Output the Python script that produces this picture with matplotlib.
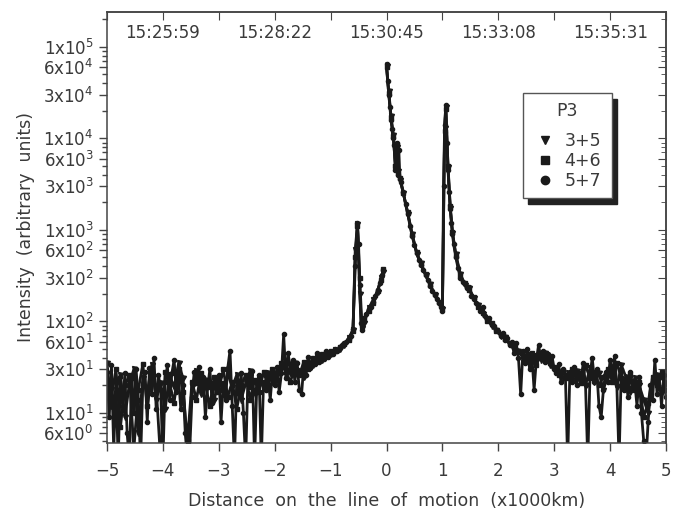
import numpy as np
import matplotlib.pyplot as plt
import matplotlib.transforms as mtransforms
from matplotlib.lines import Line2D
from matplotlib.ticker import FixedLocator, LogLocator, NullFormatter

plt.rcParams['font.family'] = 'DejaVu Sans'
plt.rcParams['mathtext.fontset'] = 'dejavusans'

nan = np.nan

# series 5+7 (circles)
x57 = [-5.00, -4.96, -4.92, -4.88, -4.84, -4.80, -4.76, -4.72, -4.68, -4.64, -4.60, -4.56, -4.52, -4.48,
       -4.44, -4.40, -4.36, -4.32, -4.28, -4.24, -4.20, -4.16, -4.12, -4.08, -4.04, -4.00, -3.96, -3.92,
       -3.88, -3.84, -3.80, -3.76, -3.72, -3.68, -3.64, -3.60, -3.56, -3.52, -3.48, -3.44, -3.40, -3.36,
       -3.32, -3.28, -3.24, -3.20, -3.16, -3.12, -3.08, -3.04, -3.00, -2.96, -2.92, -2.88, -2.84, -2.80,
       -2.76, -2.72, -2.68, -2.64, -2.60, -2.56, -2.52, -2.48, -2.44, -2.40, -2.36, -2.32, -2.28, -2.24,
       -2.20, -2.16, -2.12, -2.08, -2.04, -2.00, -1.96, -1.92, -1.88, -1.84, -1.80, -1.76, -1.72, -1.68,
       -1.64, -1.60, -1.56, -1.52, -1.48, -1.44, -1.40, -1.36, -1.32, -1.28, -1.24, -1.20, -1.16, -1.12,
       -1.08, -1.04, -1.00, -0.96, -0.92, -0.88, -0.84, -0.80, -0.76, -0.72, -0.68, -0.64, -0.60, -0.56,
       -0.52, -0.50, -0.48, -0.46, -0.44, -0.42, -0.40, -0.36, -0.32, -0.28, -0.24, -0.20, -0.16, -0.12,
       -0.08, -0.06, -0.03, 0.00, 0.02, 0.04, 0.06, 0.08, 0.10, 0.12, 0.14, 0.16, 0.18, 0.20, 0.22, 0.24,
       0.26, 0.30, 0.34, 0.38, 0.42, 0.46, 0.50, 0.54, 0.58, 0.62, 0.66, 0.70, 0.74, 0.78, 0.82, 0.86,
       0.90, 0.94, 0.98, 1.00, 1.02, 1.04, 1.06, 1.08, 1.10, 1.12, 1.14, 1.16, 1.18, 1.20, 1.24, 1.28,
       1.32, 1.36, 1.40, 1.44, 1.48, 1.52, 1.56, 1.60, 1.64, 1.68, 1.72, 1.76, 1.80, 1.84, 1.88, 1.92,
       1.96, 2.00, 2.04, 2.08, 2.12, 2.16, 2.20, 2.24, 2.28, 2.32, 2.36, 2.40, 2.44, 2.48, 2.52, 2.56,
       2.60, 2.64, 2.68, 2.72, 2.76, 2.80, 2.84, 2.88, 2.92, 2.96, 3.00, 3.04, 3.08, 3.12, 3.16, 3.20,
       3.24, 3.28, 3.32, 3.36, 3.40, 3.44, 3.48, 3.52, 3.56, 3.60, 3.64, 3.68, 3.72, 3.76, 3.80, 3.84,
       3.88, 3.92, 3.96, 4.00, 4.04, 4.08, 4.12, 4.16, 4.20, 4.24, 4.28, 4.32, 4.36, 4.40, 4.44, 4.48,
       4.52, 4.56, 4.60, 4.64, 4.68, 4.72, 4.76, 4.80, 4.84, 4.88, 4.92, 4.96, 5.00]
y57 = [28, 9, 33, 4, 22, 3, 25, 12, 27, 6, 3, 24, 10, 30,
       14, 3, 20, 28, 8, 31, 16, 40, 11, 26, 18, 3, 22, 33,
       14, 27, 38, 17, 24, 11, 20, 6, 3, 4, 15, 28, 21, 32,
       18, 25, 9, 19, 30, 13, 22, 17, 26, 8, 21, 14, 31, 48,
       12, 3, 23, 16, 27, 10, 3, 24, 19, 29, 3, 21, 26, 3,
       22, 18, 25, 14, 28, 20, 32, 17, 27, 72, 24, 45, 30, 38,
       22, 35, 18, 16, 33, 26, 41, 31, 38, 34, 45, 36, 42, 39,
       48, 41, 46, 44, 50, 47, 53, 55, 58, 60, 64, 70, 82, 400,
       1200, 700, 250, 95, 80, 105, 100, 120, 135, 145, 165, 190, 220, 260,
       320, 360, nan, 65000, 42000, 30000, 22000, 16000, 12500, 10000, 8500, 4500, 9000, 4000, 7500, 3600,
       3300, 2600, 1900, 1500, 1100, 850, 680, 560, 470, 410, 360, 320, 280, 245, 215, 195,
       175, 160, 145, 130, 3000, 14000, 23000, 9000, 4500, 2600, 1700, 1200, 900, 700, 500, 380,
       300, 270, 255, 230, 240, 190, 175, 160, 150, 130, 145, 115, 105, 110, 92, 88,
       80, 78, 70, 74, 62, 66, 55, 60, 45, 58, 40, 16, 48, 35, 50, 30,
       42, 18, 38, 55, 40, 48, 36, 44, 38, 42, 30, 27, 34, 22, 30, 25,
       3, 28, 22, 32, 20, 27, 24, 35, 20, 3, 26, 40, 22, 30, 12, 9,
       18, 28, 22, 38, 26, 42, 20, 3, 30, 18, 24, 15, 28, 19, 22, 12,
       25, 10, 5, 3, 8, 20, 14, 38, 16, 24, 12, 26, 15]

# series 4+6 (squares)
x46 = [-5.00, -4.92, -4.84, -4.76, -4.68, -4.60, -4.52, -4.44, -4.36, -4.28, -4.20, -4.12, -4.04, -3.96,
       -3.88, -3.80, -3.72, -3.64, -3.56, -3.48, -3.40, -3.32, -3.24, -3.16, -3.08, -3.00, -2.92, -2.84,
       -2.76, -2.68, -2.60, -2.52, -2.44, -2.36, -2.28, -2.20, -2.12, -2.04, -1.96, -1.88, -1.80, -1.72,
       -1.64, -1.56, -1.48, -1.40, -1.32, -1.24, -1.16, -1.08, -1.00, -0.92, -0.84, -0.76, -0.68, -0.60,
       -0.56, -0.52, -0.48, -0.44, -0.40, -0.32, -0.24, -0.16, -0.10, -0.06, -0.03, 0.00, 0.04, 0.08,
       0.12, 0.16, 0.18, 0.20, 0.24, 0.30, 0.38, 0.46, 0.54, 0.62, 0.70, 0.78, 0.86, 0.94, 1.00, 1.04,
       1.06, 1.10, 1.14, 1.18, 1.24, 1.32, 1.40, 1.48, 1.56, 1.64, 1.72, 1.80, 1.88, 1.96, 2.04, 2.12,
       2.20, 2.28, 2.36, 2.44, 2.52, 2.60, 2.68, 2.76, 2.84, 2.92, 3.00, 3.08, 3.16, 3.24, 3.32, 3.40,
       3.48, 3.56, 3.64, 3.72, 3.80, 3.88, 3.96, 4.04, 4.12, 4.20, 4.28, 4.36, 4.44, 4.52, 4.60, 4.68,
       4.76, 4.84, 4.92, 5.00]
y46 = [22, 15, 30, 7, 20, 26, 4, 18, 34, 12, 25, 19, 3, 28,
       21, 13, 30, 17, 5, 22, 14, 27, 20, 12, 25, 18, 30, 15,
       22, 11, 20, 26, 14, 23, 17, 28, 20, 30, 23, 35, 28, 22,
       31, 26, 36, 30, 40, 37, 44, 42, 48, 47, 52, 57, 62, 78,
       500, 1100, 300, 90, 110, 130, 160, 215, 280, 370, nan, 60000, 31000, 17000,
       10500, 5000, 8500, 4200, 3700, 2500, 1550, 870, 570, 420, 330, 250, 200, 165, 140, 12000,
       21000, 5000, 1800, 950, 520, 320, 260, 220, 185, 145, 125, 100, 95, 78, 72, 65,
       58, 52, 46, 42, 38, 45, 33, 44, 40, 35, 32, 26, 29, 24, 30, 26,
       21, 33, 24, 28, 20, 25, 30, 22, 35, 24, 20, 26, 18, 22, 9, 13,
       25, 20, 28, 18]

# series 3+5 (triangles)
x35 = [-5.00, -4.92, -4.84, -4.76, -4.68, -4.60, -4.52, -4.44, -4.36, -4.28, -4.20, -4.12, -4.04, -3.96,
       -3.88, -3.80, -3.72, -3.64, -3.56, -3.48, -3.40, -3.32, -3.24, -3.16, -3.08, -3.00, -2.92, -2.84,
       -2.76, -2.68, -2.60, -2.52, -2.44, -2.36, -2.28, -2.20, -2.12, -2.04, -1.96, -1.88, -1.80, -1.72,
       -1.64, -1.56, -1.48, -1.40, -1.32, -1.24, -1.16, -1.08, -1.00, -0.92, -0.84, -0.76, -0.68, -0.60,
       -0.56, -0.52, -0.48, -0.44, -0.40, -0.32, -0.24, -0.16, -0.10, -0.06, -0.03, 0.00, 0.04, 0.08,
       0.12, 0.16, 0.18, 0.20, 0.24, 0.30, 0.38, 0.46, 0.54, 0.62, 0.70, 0.78, 0.86, 0.94, 1.00, 1.04,
       1.06, 1.10, 1.14, 1.18, 1.24, 1.32, 1.40, 1.48, 1.56, 1.64, 1.72, 1.80, 1.88, 1.96, 2.04, 2.12,
       2.20, 2.28, 2.36, 2.44, 2.52, 2.60, 2.68, 2.76, 2.84, 2.92, 3.00, 3.08, 3.16, 3.24, 3.32, 3.40,
       3.48, 3.56, 3.64, 3.72, 3.80, 3.88, 3.96, 4.04, 4.12, 4.20, 4.28, 4.36, 4.44, 4.52, 4.60, 4.68,
       4.76, 4.84, 4.92, 5.00]
y35 = [35, 12, 18, 26, 9, 21, 30, 6, 24, 17, 33, 14, 21, 11,
       26, 19, 35, 24, 3, 19, 29, 16, 23, 20, 14, 24, 17, 27,
       19, 26, 14, 21, 29, 16, 24, 19, 27, 22, 26, 30, 33, 27,
       35, 29, 25, 35, 33, 41, 38, 45, 44, 49, 50, 55, 66, 80,
       600, 1150, 200, 85, 95, 140, 170, 210, 300, 350, nan, 62000, 33000, 17500,
       11000, 4800, 8000, 4400, 3500, 2550, 1500, 900, 550, 430, 320, 255, 195, 160, 135, 13000,
       22000, 4800, 1750, 920, 540, 330, 250, 230, 180, 150, 120, 105, 90, 80, 70, 68,
       56, 50, 48, 40, 44, 36, 42, 38, 45, 33, 30, 28, 24, 27, 23, 29,
       25, 20, 31, 22, 27, 18, 26, 29, 19, 33, 25, 17, 24, 20, 14, 10,
       22, 26, 17, 21]

series = [
    ('3+5', x35, y35, 'v', 3.6),
    ('4+6', x46, y46, 's', 3.0),
    ('5+7', x57, y57, 'o', 3.0),
]

top_pos = [-4, -2, 0, 2, 4]
top_labels = ['15:25:59', '15:28:22', '15:30:45', '15:33:08', '15:35:31']

y_major = [6, 10, 30, 60, 100, 300, 600, 1e3, 3e3, 6e3, 1e4, 3e4, 6e4, 1e5]
y_major_labels = ['6x10$^{0}$', '1x10$^{1}$', '3x10$^{1}$', '6x10$^{1}$', '1x10$^{2}$', '3x10$^{2}$',
                  '6x10$^{2}$', '1x10$^{3}$', '3x10$^{3}$', '6x10$^{3}$', '1x10$^{4}$', '3x10$^{4}$',
                  '6x10$^{4}$', '1x10$^{5}$']

ink = '#1a1a1a'
txt = '#3a3a3a'

fig = plt.figure(figsize=(6.79, 5.09), dpi=100)
ax = fig.add_axes([0.1576, 0.1297, 0.8233, 0.8468])

for name, xs, ys, mk, ms in series:
    ax.plot(xs, ys, color=ink, lw=2.0, marker=mk, ms=ms, mfc=ink, mec=ink)

ax.set_yscale('log')
ax.set_xlim(-5, 5)
ax.set_ylim(4.7, 2.4e5)

ax.yaxis.set_major_locator(FixedLocator(y_major))
ax.set_yticklabels(y_major_labels)
ax.yaxis.set_minor_locator(LogLocator(base=10, subs=(2, 4, 5, 7, 8, 9)))
ax.yaxis.set_minor_formatter(NullFormatter())
ax.set_xticks([-5, -4, -3, -2, -1, 0, 1, 2, 3, 4, 5])
ax.set_xticklabels(['\u22125', '\u22124', '\u22123', '\u22122', '\u22121', '0', '1', '2', '3', '4', '5'])

ax.tick_params(axis='both', which='major', direction='out', length=6, width=1, color='#444444',
               labelsize=12, labelcolor=txt)
ax.tick_params(axis='y', which='minor', direction='out', length=3.5, width=1, color='#444444')
ax.tick_params(axis='x', pad=8)

# right and top axes carry inward ticks only
ry = ax.secondary_yaxis('right')
ry.yaxis.set_major_locator(FixedLocator(y_major))
ry.yaxis.set_minor_locator(LogLocator(base=10, subs=(2, 4, 5, 7, 8, 9)))
ry.tick_params(which='major', direction='in', length=6, color='#444444', labelright=False)
ry.tick_params(which='minor', direction='in', length=3.5, color='#444444', labelright=False)
ry.yaxis.set_minor_formatter(NullFormatter())

tx = ax.secondary_xaxis('top')
tx.set_xticks([-5, -4, -3, -2, -1, 0, 1, 2, 3, 4, 5])
tx.tick_params(direction='in', length=6, color='#444444', labeltop=False)

for sp in list(ax.spines.values()) + list(ry.spines.values()) + list(tx.spines.values()):
    sp.set_color('#444444')
    sp.set_linewidth(1.1)

trans = mtransforms.blended_transform_factory(ax.transData, ax.transAxes)
for p, lab in zip(top_pos, top_labels):
    ax.text(p, 0.951, lab, transform=trans, ha='center', va='center', fontsize=12, color=txt)

ax.set_xlabel('Distance  on  the  line  of  motion  (x1000km)', fontsize=12.5, color=txt, labelpad=8)
ax.set_ylabel('Intensity  (arbitrary  units)', fontsize=12.5, color=txt, labelpad=6)

handles = [Line2D([], [], ls='none', marker=mk, ms=6, color=ink) for _, _, _, mk, _ in series]
leg = ax.legend(handles, [s[0] for s in series], title='P3', loc='upper left',
                bbox_to_anchor=(0.744, 0.55, 0.159, 0.262), mode='expand', fontsize=12.5,
                title_fontsize=12.5, frameon=True, fancybox=False,
                shadow={'ox': 4, 'oy': -4, 'color': '#222222', 'alpha': 1},
                handlelength=1.6, handletextpad=0.3, borderpad=0.5, labelspacing=0.1,
                borderaxespad=0)
leg._legend_box.sep = 9
leg.get_frame().set_edgecolor('#555555')
leg.get_frame().set_linewidth(1)
for t in leg.get_texts():
    t.set_color(txt)
leg.get_title().set_color(txt)

fig.savefig('out.png', dpi=100)
